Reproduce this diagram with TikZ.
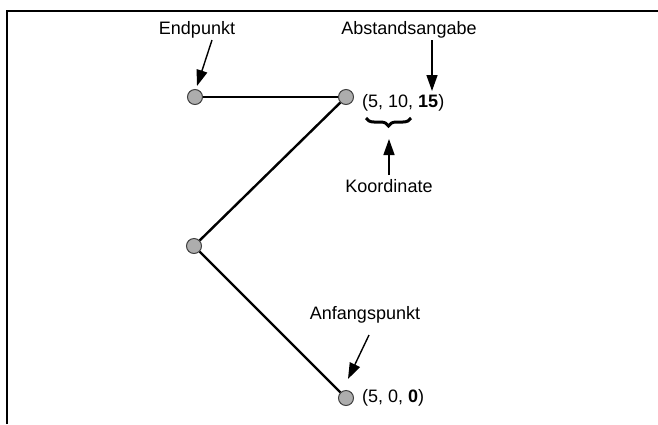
\documentclass[tikz,border=0pt]{standalone}
\usepackage{fontspec}
\setmainfont{Liberation Sans}
\usetikzlibrary{arrows.meta,decorations.pathreplacing}
\begin{document}
\begin{tikzpicture}[x=1pt,y=-1pt,
  pt/.style={circle,draw=black!75,fill=black!32,line width=1pt,minimum size=15pt,inner sep=0pt},
  seg/.style={line width=2.4pt},
  lab/.style={font=\fontsize{18}{21}\selectfont,inner sep=0pt},
  ptr/.style={line width=1.4pt,-{Triangle[length=16pt,width=11pt]}}]
\useasboundingbox (0,0) rectangle (658,424);
\draw[line width=2.5pt] (7,424) -- (7,11) -- (658,11);
\node[pt] (p1) at (195,97) {};
\node[pt] (p2) at (346,97) {};
\node[pt] (p3) at (194,246) {};
\node[pt] (p4) at (346,398) {};
\draw[seg] (p1) -- (p2);
\draw[seg] (p2) -- (p3);
\draw[seg] (p3) -- (p4);
\node[lab] (lend) at (197,30) {Endpunkt};
\node[lab] (labst) at (409,30) {Abstandsangabe};
\node[lab,anchor=west] (c1) at (362,103) {(5, 10, \textbf{15})};
\node[lab] (lkoo) at (389,186) {Koordinate};
\node[lab] (lanf) at (365,315) {Anfangspunkt};
\node[lab,anchor=west] (c2) at (362,398) {(5, 0, \textbf{0})};
\coordinate (a1s) at (212,40);
\coordinate (a1e) at (197,86);
\draw[ptr] (a1s) -- (a1e);
\coordinate (a2s) at (432,40);
\coordinate (a2e) at (432,91);
\draw[ptr] (a2s) -- (a2e);
\coordinate (b1) at (366,118);
\coordinate (b2) at (411,118);
\draw[line width=3pt,decorate,decoration={brace,mirror,amplitude=8pt}] (b1) -- (b2);
\coordinate (a3s) at (389,175);
\coordinate (a3e) at (389,139);
\draw[ptr] (a3s) -- (a3e);
\coordinate (a4s) at (369,335);
\coordinate (a4e) at (348,379);
\draw[ptr] (a4s) -- (a4e);
\end{tikzpicture}
\end{document}
